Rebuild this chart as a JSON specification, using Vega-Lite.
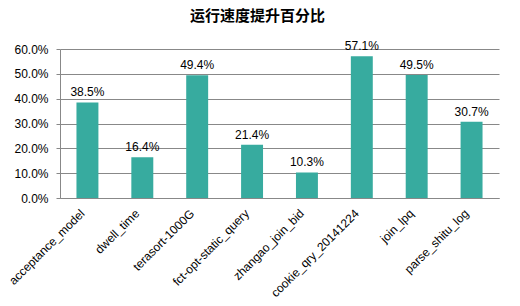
{
  "$schema": "https://vega.github.io/schema/vega-lite/v6.json",
  "autosize": {"type": "none"},
  "padding": {"left": 60, "top": 49, "right": 21, "bottom": 108},
  "width": 439,
  "height": 149,
  "background": "white",
  "title": {
    "text": "运行速度提升百分比",
    "fontSize": 15,
    "font": "Noto Sans CJK SC",
    "fontWeight": "bold",
    "color": "#000000",
    "anchor": "middle",
    "dx": -22,
    "offset": 16
  },
  "config": {
    "view": {"stroke": null},
    "font": "Liberation Sans"
  },
  "data": {
    "values": [
      {"job": "acceptance_model", "v": 0.385},
      {"job": "dwell_time", "v": 0.164},
      {"job": "terasort-1000G", "v": 0.494},
      {"job": "fct-opt-static_query", "v": 0.214},
      {"job": "zhangao_join_bid", "v": 0.103},
      {"job": "cookie_qry_20141224", "v": 0.571},
      {"job": "join_lpq", "v": 0.495},
      {"job": "parse_shitu_log", "v": 0.307}
    ]
  },
  "encoding": {
    "x": {
      "field": "job",
      "type": "nominal",
      "sort": null,
      "scale": {"paddingInner": 0.6, "paddingOuter": 0.3},
      "axis": {
        "title": null,
        "labelAngle": -45,
        "labelAlign": "right",
        "labelBaseline": "middle",
        "labelFontSize": 12,
        "labelColor": "#000000",
        "labelFont": "Liberation Sans",
        "ticks": false,
        "labelPadding": 13,
        "labelOffset": -5,
        "domainColor": "#888888"
      }
    },
    "y": {
      "field": "v",
      "type": "quantitative",
      "scale": {"domain": [0, 0.6], "nice": false},
      "axis": {
        "title": null,
        "format": ".1%",
        "values": [0, 0.1, 0.2, 0.3, 0.4, 0.5, 0.6],
        "labelFontSize": 12,
        "labelColor": "#000000",
        "labelFont": "Liberation Sans",
        "gridColor": "#888888",
        "gridOpacity": 1,
        "domainColor": "#888888",
        "tickColor": "#888888",
        "tickSize": 4,
        "labelPadding": 8
      }
    }
  },
  "layer": [
    {"mark": {"type": "bar", "color": "#37ab9f"}},
    {
      "mark": {"type": "text", "baseline": "bottom", "dy": -3, "fontSize": 12, "font": "Liberation Sans", "color": "#000000"},
      "encoding": {"text": {"field": "v", "type": "quantitative", "format": ".1%"}}
    }
  ]
}
